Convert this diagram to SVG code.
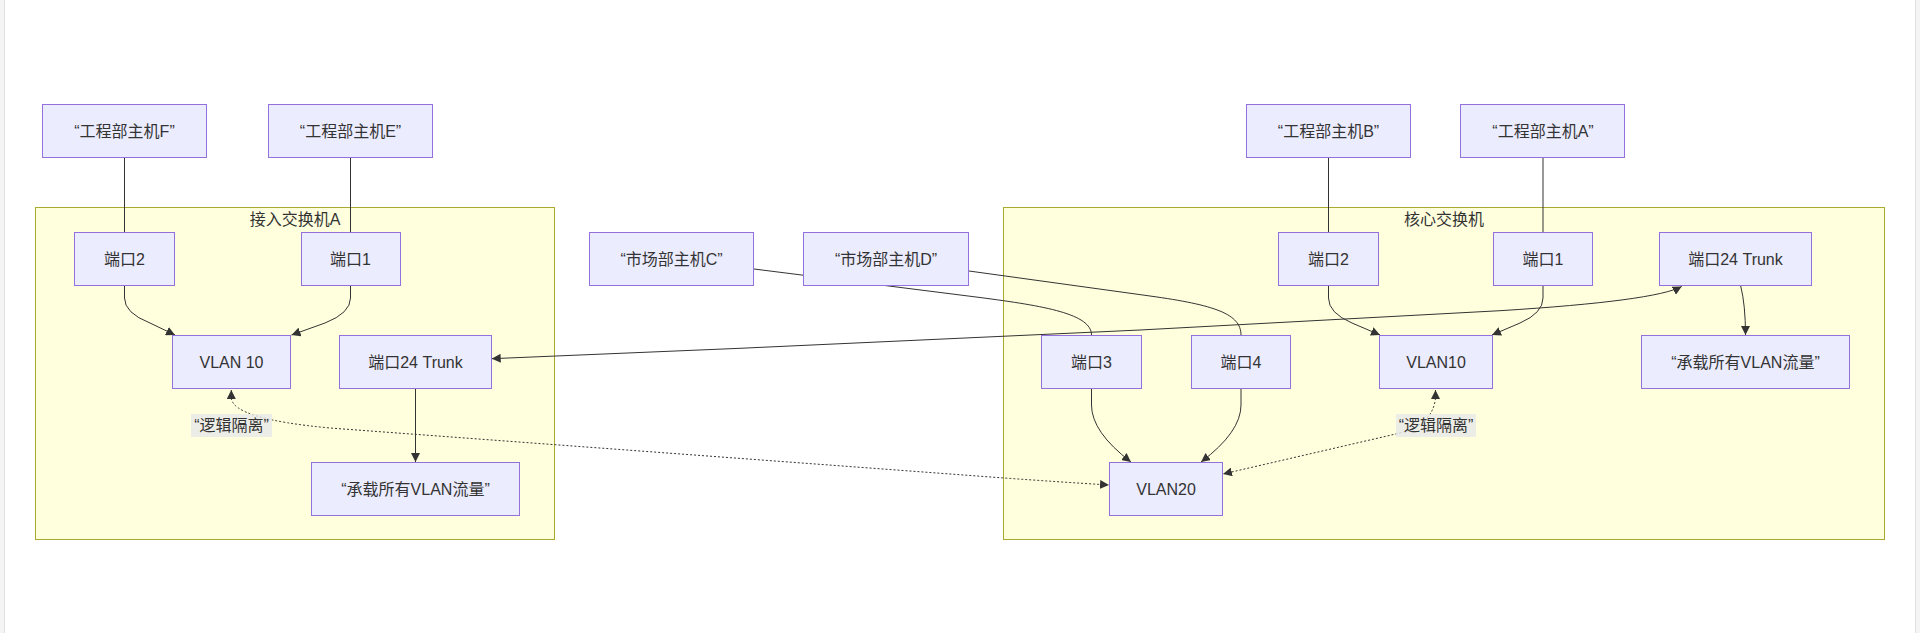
<svg xmlns="http://www.w3.org/2000/svg" width="1920" height="633" viewBox="0 0 1920 633">
  <style>
    text { font-family: "Liberation Sans", "Noto Sans CJK SC", sans-serif; font-size: 16px; fill: #333; text-anchor: middle; dominant-baseline: central; }
    .node rect { fill: #ECECFF; stroke: #9370DB; stroke-width: 1; }
    .cluster rect { fill: #FFFFDE; stroke: #AAAA33; stroke-width: 1; }
    .edge { fill: none; stroke: #333; stroke-width: 1; }
    .dotted { stroke-dasharray: 2 2; }
    .elabel rect { fill: #e8e8e8; fill-opacity: 0.8; }
  </style>
  <defs>
    <marker id="arrow" viewBox="0 0 10 10" refX="10" refY="5" markerUnits="userSpaceOnUse" markerWidth="9" markerHeight="9" orient="auto-start-reverse">
      <path d="M0,0 L10,5 L0,10 z" fill="#333"/>
    </marker>
  </defs>

  <!-- page -->
  <rect x="0" y="0" width="1920" height="633" fill="#ffffff"/>
  <rect x="0" y="0" width="4" height="633" fill="#f4f4f4"/>
  <rect x="1916" y="0" width="4" height="633" fill="#f4f4f4"/>
  <line x1="4.5" y1="0" x2="4.5" y2="633" stroke="#e2e2e2"/>
  <line x1="1915.5" y1="0" x2="1915.5" y2="633" stroke="#e2e2e2"/>

  <!-- clusters -->
  <g id="cluster-access" class="cluster">
    <rect x="35.5" y="207.5" width="519" height="332"/>
    <text x="295" y="219">接入交换机A</text>
  </g>
  <g id="cluster-core" class="cluster">
    <rect x="1003.5" y="207.5" width="881" height="332"/>
    <text x="1444" y="219">核心交换机</text>
  </g>

  <!-- connectors -->
  <g id="connectors">
    <path class="edge" d="M124.5,158 L124.5,232"/>
    <path class="edge" d="M350.5,158 L350.5,232"/>
    <path class="edge" d="M1328.5,158 L1328.5,232"/>
    <path class="edge" d="M1543,158 L1543,232"/>
    <path class="edge" d="M124.5,286 L124.5,298 Q124.5,313 150,323 L175,335" marker-end="url(#arrow)"/>
    <path class="edge" d="M350.5,286 L350.5,298 Q350.5,313 325,323 L291.5,335" marker-end="url(#arrow)"/>
    <path class="edge" d="M415.5,389 L415.5,462" marker-end="url(#arrow)"/>
    <path class="edge" d="M754,269 L980,297.5 C1045,306 1091.5,314 1091.5,335"/>
    <path class="edge" d="M969,271 L1150,296 C1215,305 1241,314 1241,335"/>
    <path class="edge" d="M1328.5,286 L1328.5,298 Q1328.5,313 1352,323 L1380,335" marker-end="url(#arrow)"/>
    <path class="edge" d="M1543,286 L1543,298 Q1543,313 1520,323 L1492,335" marker-end="url(#arrow)"/>
    <path class="edge" d="M1091.5,389 L1091.5,405 Q1091.5,432 1131,462" marker-end="url(#arrow)"/>
    <path class="edge" d="M1241,389 L1241,405 Q1241,432 1201,462" marker-end="url(#arrow)"/>
    <path class="edge" d="M1740.7,286 Q1745.5,305 1745.5,335" marker-end="url(#arrow)"/>
    <path class="edge" d="M491.7,358.7 L740,348.3 L1140,330 L1500,310.7 Q1655,301 1681.7,286.5" marker-start="url(#arrow)" marker-end="url(#arrow)"/>
    <path class="edge dotted" d="M231.3,390 L231.3,398 Q233,419 330,428 L1000,477.7 Q1060,482 1109,485" marker-start="url(#arrow)" marker-end="url(#arrow)"/>
    <path class="edge dotted" d="M1435.5,390 L1435.5,398 Q1433,424 1400,433 L1223,474" marker-start="url(#arrow)" marker-end="url(#arrow)"/>
  </g>

  <!-- edge labels -->
  <g id="edge-label-1" class="elabel">
    <rect x="191" y="414" width="81" height="23"/>
    <text x="231.5" y="425.7">“逻辑隔离”</text>
  </g>
  <g id="edge-label-2" class="elabel">
    <rect x="1396" y="414" width="80" height="23"/>
    <text x="1436" y="425.7">“逻辑隔离”</text>
  </g>

  <!-- nodes -->
  <g id="hostF" class="node"><rect x="42.5" y="104.5" width="164" height="53"/><text x="124.5" y="131">“工程部主机F”</text></g>
  <g id="hostE" class="node"><rect x="268.5" y="104.5" width="164" height="53"/><text x="350.5" y="131">“工程部主机E”</text></g>
  <g id="hostB" class="node"><rect x="1246.5" y="104.5" width="164" height="53"/><text x="1328.5" y="131">“工程部主机B”</text></g>
  <g id="hostA" class="node"><rect x="1460.5" y="104.5" width="164" height="53"/><text x="1543" y="131">“工程部主机A”</text></g>
  <g id="hostC" class="node"><rect x="589.5" y="232.5" width="164" height="53"/><text x="671.5" y="259">“市场部主机C”</text></g>
  <g id="hostD" class="node"><rect x="803.5" y="232.5" width="165" height="53"/><text x="886" y="259">“市场部主机D”</text></g>

  <g id="A_port2" class="node"><rect x="74.5" y="232.5" width="100" height="53"/><text x="124.5" y="259">端口2</text></g>
  <g id="A_port1" class="node"><rect x="301.5" y="232.5" width="99" height="53"/><text x="350.5" y="259">端口1</text></g>
  <g id="A_vlan10" class="node"><rect x="172.5" y="335.5" width="118" height="53"/><text x="231.5" y="362">VLAN 10</text></g>
  <g id="A_trunk" class="node"><rect x="339.5" y="335.5" width="152" height="53"/><text x="415.5" y="362">端口24 Trunk</text></g>
  <g id="A_carry" class="node"><rect x="311.5" y="462.5" width="208" height="53"/><text x="415.5" y="489">“承载所有VLAN流量”</text></g>

  <g id="C_port2" class="node"><rect x="1278.5" y="232.5" width="100" height="53"/><text x="1328.5" y="259">端口2</text></g>
  <g id="C_port1" class="node"><rect x="1493.5" y="232.5" width="99" height="53"/><text x="1543" y="259">端口1</text></g>
  <g id="C_trunk" class="node"><rect x="1659.5" y="232.5" width="152" height="53"/><text x="1735.5" y="259">端口24 Trunk</text></g>
  <g id="C_carry" class="node"><rect x="1641.5" y="335.5" width="208" height="53"/><text x="1745.5" y="362">“承载所有VLAN流量”</text></g>
  <g id="C_port3" class="node"><rect x="1041.5" y="335.5" width="100" height="53"/><text x="1091.5" y="362">端口3</text></g>
  <g id="C_port4" class="node"><rect x="1191.5" y="335.5" width="99" height="53"/><text x="1241" y="362">端口4</text></g>
  <g id="C_vlan10" class="node"><rect x="1379.5" y="335.5" width="113" height="53"/><text x="1436" y="362">VLAN10</text></g>
  <g id="C_vlan20" class="node"><rect x="1109.5" y="462.5" width="113" height="53"/><text x="1166" y="489">VLAN20</text></g>
</svg>
